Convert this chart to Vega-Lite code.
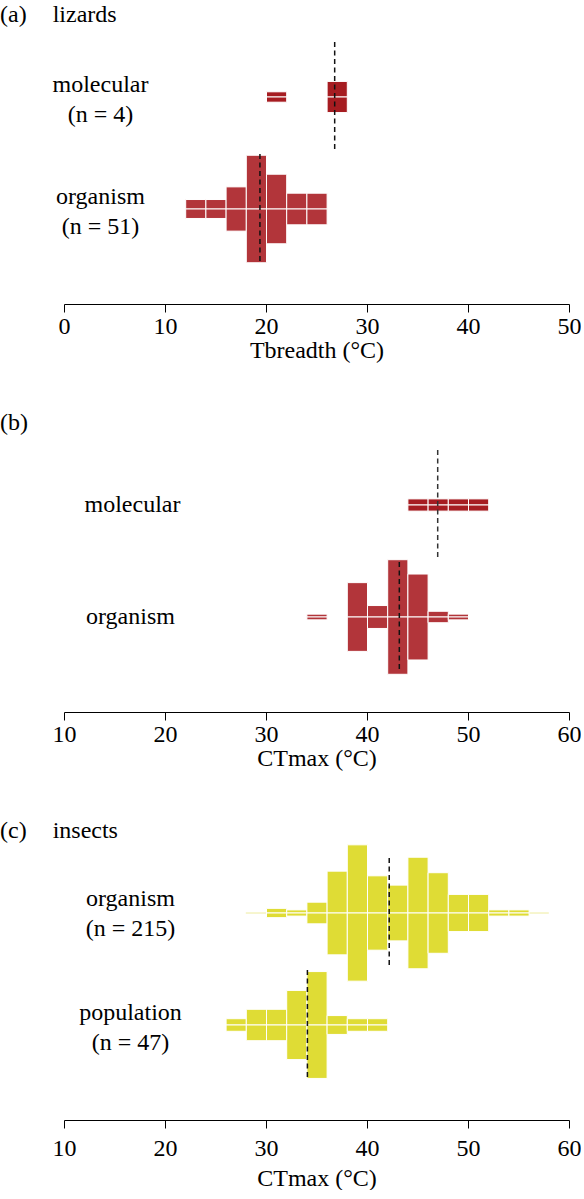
{
  "$schema": "https://vega.github.io/schema/vega-lite/v6.json",
  "background": "white",
  "padding": {"left": 0, "top": 3, "right": 0, "bottom": 0},
  "datasets": {
    "bins": [
      {"panel": "a", "group": "molecular", "lo": 20, "hi": 22, "count": 1},
      {"panel": "a", "group": "molecular", "lo": 26, "hi": 28, "count": 3},
      {"panel": "a", "group": "organism", "lo": 12, "hi": 14, "count": 3},
      {"panel": "a", "group": "organism", "lo": 14, "hi": 16, "count": 3},
      {"panel": "a", "group": "organism", "lo": 16, "hi": 18, "count": 7},
      {"panel": "a", "group": "organism", "lo": 18, "hi": 20, "count": 17},
      {"panel": "a", "group": "organism", "lo": 20, "hi": 22, "count": 11},
      {"panel": "a", "group": "organism", "lo": 22, "hi": 24, "count": 5},
      {"panel": "a", "group": "organism", "lo": 24, "hi": 26, "count": 5},
      {"panel": "b", "group": "molecular", "lo": 44, "hi": 46, "count": 1},
      {"panel": "b", "group": "molecular", "lo": 46, "hi": 48, "count": 1},
      {"panel": "b", "group": "molecular", "lo": 48, "hi": 50, "count": 1},
      {"panel": "b", "group": "molecular", "lo": 50, "hi": 52, "count": 1},
      {"panel": "b", "group": "organism", "lo": 34, "hi": 36, "count": 1},
      {"panel": "b", "group": "organism", "lo": 38, "hi": 40, "count": 12},
      {"panel": "b", "group": "organism", "lo": 40, "hi": 42, "count": 4},
      {"panel": "b", "group": "organism", "lo": 42, "hi": 44, "count": 20},
      {"panel": "b", "group": "organism", "lo": 44, "hi": 46, "count": 15},
      {"panel": "b", "group": "organism", "lo": 46, "hi": 48, "count": 2},
      {"panel": "b", "group": "organism", "lo": 48, "hi": 50, "count": 1},
      {"panel": "c", "group": "organism", "lo": 30, "hi": 32, "count": 3},
      {"panel": "c", "group": "organism", "lo": 32, "hi": 34, "count": 2},
      {"panel": "c", "group": "organism", "lo": 34, "hi": 36, "count": 7},
      {"panel": "c", "group": "organism", "lo": 36, "hi": 38, "count": 27},
      {"panel": "c", "group": "organism", "lo": 38, "hi": 40, "count": 44},
      {"panel": "c", "group": "organism", "lo": 40, "hi": 42, "count": 24},
      {"panel": "c", "group": "organism", "lo": 42, "hi": 44, "count": 18},
      {"panel": "c", "group": "organism", "lo": 44, "hi": 46, "count": 36},
      {"panel": "c", "group": "organism", "lo": 46, "hi": 48, "count": 26},
      {"panel": "c", "group": "organism", "lo": 48, "hi": 50, "count": 12},
      {"panel": "c", "group": "organism", "lo": 50, "hi": 52, "count": 12},
      {"panel": "c", "group": "organism", "lo": 52, "hi": 54, "count": 2},
      {"panel": "c", "group": "organism", "lo": 54, "hi": 56, "count": 2},
      {"panel": "c", "group": "population", "lo": 26, "hi": 28, "count": 2},
      {"panel": "c", "group": "population", "lo": 28, "hi": 30, "count": 5},
      {"panel": "c", "group": "population", "lo": 30, "hi": 32, "count": 5},
      {"panel": "c", "group": "population", "lo": 32, "hi": 34, "count": 11},
      {"panel": "c", "group": "population", "lo": 34, "hi": 36, "count": 17},
      {"panel": "c", "group": "population", "lo": 36, "hi": 38, "count": 3},
      {"panel": "c", "group": "population", "lo": 38, "hi": 40, "count": 2},
      {"panel": "c", "group": "population", "lo": 40, "hi": 42, "count": 2}
    ],
    "means": [
      {"panel": "a", "group": "molecular", "mean": 26.8},
      {"panel": "a", "group": "organism", "mean": 19.4},
      {"panel": "b", "group": "molecular", "mean": 47.0},
      {"panel": "b", "group": "organism", "mean": 43.2},
      {"panel": "c", "group": "organism", "mean": 42.2},
      {"panel": "c", "group": "population", "mean": 34.1}
    ],
    "ranges": [
      {"panel": "c", "group": "organism", "min": 28, "max": 58}
    ]
  },
  "vconcat": [
    {
      "spacing": 2,
      "bounds": "flush",
      "vconcat": [
        {
          "width": 505, "height": 110,
          "title": {"text": "(a)\u2003\u200alizards", "anchor": "start", "frame": "group", "dx": -64, "offset": 14},
          "layer": [
            {
              "data": {"name": "bins"},
              "transform": [{"filter": "datum.panel === 'a' && datum.group === 'molecular'"}],
              "mark": {"type": "bar", "fill": "#A61C21", "stroke": "white", "strokeWidth": 1, "binSpacing": 0},
              "encoding": {
                "x": {"field": "lo", "type": "quantitative", "bin": {"binned": true}, "scale": {"domain": [0, 50], "nice": false}, "axis": null},
                "x2": {"field": "hi"},
                "y": {"field": "count", "type": "quantitative", "scale": {"domain": [-10.6, 10.6], "nice": false},
                      "axis": {"domain": false, "ticks": false, "labels": false, "title": ["molecular", "(n = 4)"], "titleAngle": 0, "titleAlign": "center", "titleBaseline": "middle", "titleX": 36, "titleY": 42, "titleLineHeight": 30}}
              }
            },
            {
              "data": {"name": "bins"},
              "transform": [{"filter": "datum.panel === 'a' && datum.group === 'molecular'"}],
              "mark": {"type": "bar", "fill": "#A61C21", "stroke": "white", "strokeWidth": 1, "binSpacing": 0},
              "encoding": {
                "x": {"field": "lo", "type": "quantitative", "bin": {"binned": true}, "scale": {"domain": [0, 50], "nice": false}, "axis": null},
                "x2": {"field": "hi"},
                "y": {"field": "count", "type": "quantitative", "scale": {"domain": [-10.6, 10.6], "nice": false, "reverse": true}, "axis": null}
              }
            },
            {
              "data": {"name": "means"},
              "transform": [{"filter": "datum.panel === 'a' && datum.group === 'molecular'"}],
              "mark": {"type": "rule", "color": "#111111", "strokeWidth": 1.5, "strokeDash": [5, 3.5]},
              "encoding": {"x": {"field": "mean", "type": "quantitative", "scale": {"domain": [0, 50], "nice": false}}}
            }
          ],
          "resolve": {"scale": {"y": "independent"}}
        },
        {
          "width": 505, "height": 110,
          "layer": [
            {
              "data": {"name": "bins"},
              "transform": [{"filter": "datum.panel === 'a' && datum.group === 'organism'"}],
              "mark": {"type": "bar", "fill": "#B2353A", "stroke": "white", "strokeWidth": 1, "binSpacing": 0},
              "encoding": {
                "x": {"field": "lo", "type": "quantitative", "bin": {"binned": true}, "scale": {"domain": [0, 50], "nice": false},
                      "axis": {"values": [0, 10, 20, 30, 40, 50], "title": "Tbreadth (°C)", "offset": 40, "labelPadding": 2, "titlePadding": 0}},
                "x2": {"field": "hi"},
                "y": {"field": "count", "type": "quantitative", "scale": {"domain": [-17.4, 17.4], "nice": false},
                      "axis": {"domain": false, "ticks": false, "labels": false, "title": ["organism", "(n = 51)"], "titleAngle": 0, "titleAlign": "center", "titleBaseline": "middle", "titleX": 36, "titleY": 42, "titleLineHeight": 30}}
              }
            },
            {
              "data": {"name": "bins"},
              "transform": [{"filter": "datum.panel === 'a' && datum.group === 'organism'"}],
              "mark": {"type": "bar", "fill": "#B2353A", "stroke": "white", "strokeWidth": 1, "binSpacing": 0},
              "encoding": {
                "x": {"field": "lo", "type": "quantitative", "bin": {"binned": true}, "scale": {"domain": [0, 50], "nice": false}},
                "x2": {"field": "hi"},
                "y": {"field": "count", "type": "quantitative", "scale": {"domain": [-17.4, 17.4], "nice": false, "reverse": true}, "axis": null}
              }
            },
            {
              "data": {"name": "means"},
              "transform": [{"filter": "datum.panel === 'a' && datum.group === 'organism'"}],
              "mark": {"type": "rule", "color": "#111111", "strokeWidth": 1.5, "strokeDash": [5, 3.5]},
              "encoding": {"x": {"field": "mean", "type": "quantitative", "scale": {"domain": [0, 50], "nice": false}}}
            }
          ],
          "resolve": {"scale": {"y": "independent"}}
        }
      ]
    },
    {
      "spacing": 2,
      "bounds": "flush",
      "vconcat": [
        {
          "width": 505, "height": 110,
          "title": {"text": "(b)", "anchor": "start", "frame": "group", "dx": -64, "offset": 14},
          "layer": [
            {
              "data": {"name": "bins"},
              "transform": [{"filter": "datum.panel === 'b' && datum.group === 'molecular'"}],
              "mark": {"type": "bar", "fill": "#A61C21", "stroke": "white", "strokeWidth": 1, "binSpacing": 0},
              "encoding": {
                "x": {"field": "lo", "type": "quantitative", "bin": {"binned": true}, "scale": {"domain": [10, 60], "nice": false}, "axis": null},
                "x2": {"field": "hi"},
                "y": {"field": "count", "type": "quantitative", "scale": {"domain": [-9, 9], "nice": false},
                      "axis": {"domain": false, "ticks": false, "labels": false, "title": "molecular", "titleAngle": 0, "titleAlign": "center", "titleBaseline": "middle", "titleX": 68, "titleY": 54}}
              }
            },
            {
              "data": {"name": "bins"},
              "transform": [{"filter": "datum.panel === 'b' && datum.group === 'molecular'"}],
              "mark": {"type": "bar", "fill": "#A61C21", "stroke": "white", "strokeWidth": 1, "binSpacing": 0},
              "encoding": {
                "x": {"field": "lo", "type": "quantitative", "bin": {"binned": true}, "scale": {"domain": [10, 60], "nice": false}, "axis": null},
                "x2": {"field": "hi"},
                "y": {"field": "count", "type": "quantitative", "scale": {"domain": [-9, 9], "nice": false, "reverse": true}, "axis": null}
              }
            },
            {
              "data": {"name": "means"},
              "transform": [{"filter": "datum.panel === 'b' && datum.group === 'molecular'"}],
              "mark": {"type": "rule", "color": "#333333", "strokeWidth": 1.5, "strokeDash": [5, 3.5]},
              "encoding": {"x": {"field": "mean", "type": "quantitative", "scale": {"domain": [10, 60], "nice": false}}}
            }
          ],
          "resolve": {"scale": {"y": "independent"}}
        },
        {
          "width": 505, "height": 110,
          "layer": [
            {
              "data": {"name": "bins"},
              "transform": [{"filter": "datum.panel === 'b' && datum.group === 'organism'"}],
              "mark": {"type": "bar", "fill": "#B2353A", "stroke": "white", "strokeWidth": 1, "binSpacing": 0},
              "encoding": {
                "x": {"field": "lo", "type": "quantitative", "bin": {"binned": true}, "scale": {"domain": [10, 60], "nice": false},
                      "axis": {"values": [10, 20, 30, 40, 50, 60], "title": "CTmax (°C)", "offset": 40, "labelPadding": 2, "titlePadding": 0}},
                "x2": {"field": "hi"},
                "y": {"field": "count", "type": "quantitative", "scale": {"domain": [-19.2, 19.2], "nice": false},
                      "axis": {"domain": false, "ticks": false, "labels": false, "title": "organism", "titleAngle": 0, "titleAlign": "center", "titleBaseline": "middle", "titleX": 66, "titleY": 54}}
              }
            },
            {
              "data": {"name": "bins"},
              "transform": [{"filter": "datum.panel === 'b' && datum.group === 'organism'"}],
              "mark": {"type": "bar", "fill": "#B2353A", "stroke": "white", "strokeWidth": 1, "binSpacing": 0},
              "encoding": {
                "x": {"field": "lo", "type": "quantitative", "bin": {"binned": true}, "scale": {"domain": [10, 60], "nice": false}},
                "x2": {"field": "hi"},
                "y": {"field": "count", "type": "quantitative", "scale": {"domain": [-19.2, 19.2], "nice": false, "reverse": true}, "axis": null}
              }
            },
            {
              "data": {"name": "means"},
              "transform": [{"filter": "datum.panel === 'b' && datum.group === 'organism'"}],
              "mark": {"type": "rule", "color": "#111111", "strokeWidth": 1.5, "strokeDash": [5, 3.5]},
              "encoding": {"x": {"field": "mean", "type": "quantitative", "scale": {"domain": [10, 60], "nice": false}}}
            }
          ],
          "resolve": {"scale": {"y": "independent"}}
        }
      ]
    },
    {
      "spacing": 2,
      "bounds": "flush",
      "vconcat": [
        {
          "width": 505, "height": 110,
          "title": {"text": "(c)\u2003\u200ainsects", "anchor": "start", "frame": "group", "dx": -64, "offset": 1},
          "layer": [
            {
              "data": {"name": "ranges"},
              "transform": [{"filter": "datum.panel === 'c' && datum.group === 'organism'"}],
              "mark": {"type": "rule", "color": "#EEEC9E", "strokeWidth": 1},
              "encoding": {
                "x": {"field": "min", "type": "quantitative", "scale": {"domain": [10, 60], "nice": false}, "axis": null},
                "x2": {"field": "max"},
                "y": {"datum": 0, "type": "quantitative", "scale": {"domain": [-35.5, 35.5], "nice": false}, "axis": null}
              }
            },
            {
              "data": {"name": "bins"},
              "transform": [{"filter": "datum.panel === 'c' && datum.group === 'organism'"}],
              "mark": {"type": "bar", "fill": "#DFDC35", "stroke": "white", "strokeWidth": 1, "binSpacing": 0},
              "encoding": {
                "x": {"field": "lo", "type": "quantitative", "bin": {"binned": true}, "scale": {"domain": [10, 60], "nice": false}, "axis": null},
                "x2": {"field": "hi"},
                "y": {"field": "count", "type": "quantitative", "scale": {"domain": [-35.5, 35.5], "nice": false},
                      "axis": {"domain": false, "ticks": false, "labels": false, "title": ["organism", "(n = 215)"], "titleAngle": 0, "titleAlign": "center", "titleBaseline": "middle", "titleX": 66, "titleY": 40, "titleLineHeight": 30}}
              }
            },
            {
              "data": {"name": "bins"},
              "transform": [{"filter": "datum.panel === 'c' && datum.group === 'organism'"}],
              "mark": {"type": "bar", "fill": "#DFDC35", "stroke": "white", "strokeWidth": 1, "binSpacing": 0},
              "encoding": {
                "x": {"field": "lo", "type": "quantitative", "bin": {"binned": true}, "scale": {"domain": [10, 60], "nice": false}, "axis": null},
                "x2": {"field": "hi"},
                "y": {"field": "count", "type": "quantitative", "scale": {"domain": [-35.5, 35.5], "nice": false, "reverse": true}, "axis": null}
              }
            },
            {
              "data": {"name": "means"},
              "transform": [{"filter": "datum.panel === 'c' && datum.group === 'organism'"}],
              "mark": {"type": "rule", "color": "#111111", "strokeWidth": 1.5, "strokeDash": [5, 3.5]},
              "encoding": {"x": {"field": "mean", "type": "quantitative", "scale": {"domain": [10, 60], "nice": false}}}
            }
          ],
          "resolve": {"scale": {"y": "independent"}}
        },
        {
          "width": 505, "height": 110,
          "layer": [
            {
              "data": {"name": "bins"},
              "transform": [{"filter": "datum.panel === 'c' && datum.group === 'population'"}],
              "mark": {"type": "bar", "fill": "#DFDC35", "stroke": "white", "strokeWidth": 1, "binSpacing": 0},
              "encoding": {
                "x": {"field": "lo", "type": "quantitative", "bin": {"binned": true}, "scale": {"domain": [10, 60], "nice": false},
                      "axis": {"values": [10, 20, 30, 40, 50, 60], "title": "CTmax (°C)", "offset": 40, "labelPadding": 8, "titlePadding": 6}},
                "x2": {"field": "hi"},
                "y": {"field": "count", "type": "quantitative", "scale": {"domain": [-17.5, 17.5], "nice": false},
                      "axis": {"domain": false, "ticks": false, "labels": false, "title": ["population", "(n = 47)"], "titleAngle": 0, "titleAlign": "center", "titleBaseline": "middle", "titleX": 66, "titleY": 42, "titleLineHeight": 30}}
              }
            },
            {
              "data": {"name": "bins"},
              "transform": [{"filter": "datum.panel === 'c' && datum.group === 'population'"}],
              "mark": {"type": "bar", "fill": "#DFDC35", "stroke": "white", "strokeWidth": 1, "binSpacing": 0},
              "encoding": {
                "x": {"field": "lo", "type": "quantitative", "bin": {"binned": true}, "scale": {"domain": [10, 60], "nice": false}},
                "x2": {"field": "hi"},
                "y": {"field": "count", "type": "quantitative", "scale": {"domain": [-17.5, 17.5], "nice": false, "reverse": true}, "axis": null}
              }
            },
            {
              "data": {"name": "means"},
              "transform": [{"filter": "datum.panel === 'c' && datum.group === 'population'"}],
              "mark": {"type": "rule", "color": "#111111", "strokeWidth": 1.5, "strokeDash": [5, 3.5]},
              "encoding": {"x": {"field": "mean", "type": "quantitative", "scale": {"domain": [10, 60], "nice": false}}}
            }
          ],
          "resolve": {"scale": {"y": "independent"}}
        }
      ]
    }
  ],
  "spacing": 408,
  "bounds": "flush",
  "config": {
    "view": {"stroke": null},
    "font": "Liberation Serif",
    "axis": {
      "grid": false,
      "domainColor": "black", "domainWidth": 1,
      "tickColor": "black", "tickWidth": 1, "tickSize": 8,
      "labelColor": "black", "labelFont": "Liberation Serif", "labelFontSize": 24, "labelPadding": 4, "labelFlush": false,
      "titleColor": "black", "titleFont": "Liberation Serif", "titleFontSize": 24, "titleFontWeight": "normal", "titlePadding": 4
    },
    "title": {"font": "Liberation Serif", "fontSize": 24, "fontWeight": "normal", "color": "black"}
  }
}
